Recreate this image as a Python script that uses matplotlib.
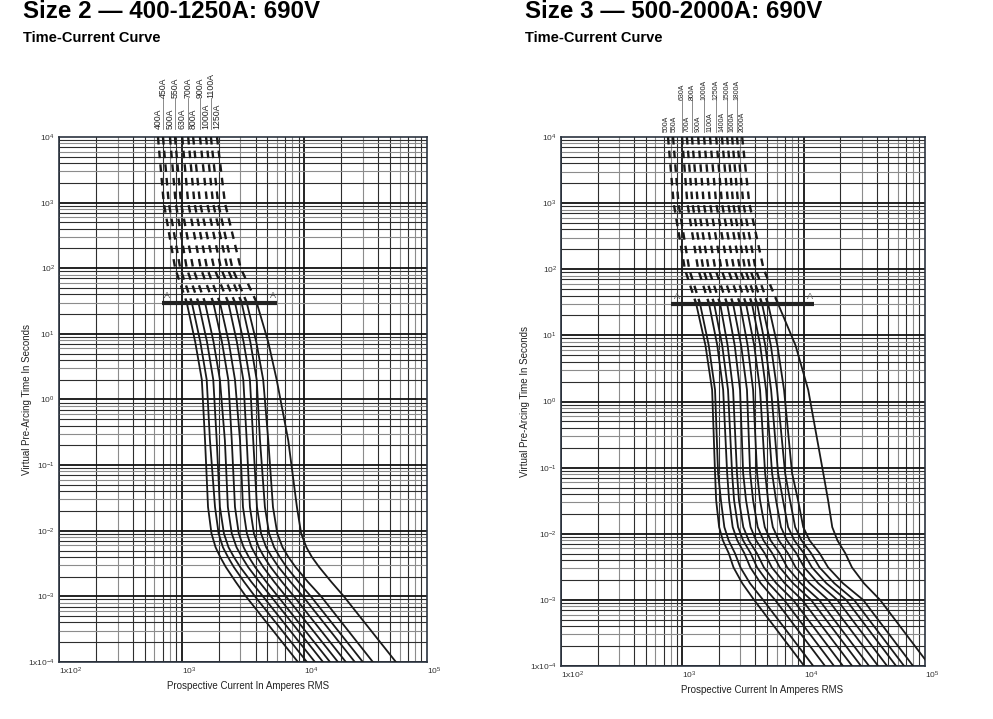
import numpy as np
import matplotlib
matplotlib.use("Agg")
from matplotlib import pyplot as plt
from matplotlib import transforms

plt.rcParams["font.family"] = ["Liberation Sans", "DejaVu Sans"]
plt.rcParams["mathtext.default"] = "regular"

left_times = [1e4, 1e3, 100, 30, 7.5, 2.0, 0.24, 0.023, 0.0091, 0.0056, 0.0040, 0.0028, 0.00166, 0.001, 1e-4]
right_times = [1e4, 1e3, 100, 30, 7.1, 1.5, 0.083, 0.032, 0.0126, 0.0079, 0.0051, 0.0031, 0.00178, 0.001, 1e-4]

left_ratings = [400, 450, 500, 550, 630, 700, 800, 900, 1000, 1100, 1250]
left_upper = [450, 550, 700, 900, 1100]
right_ratings = [500, 550, 630, 700, 800, 900, 1000, 1100, 1250, 1400, 1500, 1600, 1800, 2000]
right_upper = [630, 800, 1000, 1250, 1500, 1800]

# prospective current (A RMS), one row per fuse rating
left_currents = [
    [641, 714, 885, 1100, 1290, 1460, 1550, 1640, 1750, 1890, 2060, 2290, 2760, 3340, 8870],
    [704, 784, 973, 1210, 1420, 1600, 1700, 1870, 2000, 2170, 2380, 2660, 3230, 3960, 10500],
    [803, 893, 1100, 1370, 1610, 1810, 1930, 2050, 2210, 2410, 2660, 3000, 3700, 4600, 12200],
    [882, 987, 1240, 1550, 1820, 2050, 2250, 2380, 2560, 2800, 3090, 3480, 4300, 5340, 14200],
    [1010, 1130, 1430, 1810, 2130, 2400, 2560, 2720, 2920, 3200, 3520, 3970, 4900, 6090, 16200],
    [1130, 1270, 1610, 2050, 2420, 2720, 2990, 3160, 3400, 3710, 4090, 4620, 5690, 7080, 18800],
    [1240, 1410, 1840, 2400, 2820, 3180, 3390, 3600, 3880, 4250, 4690, 5310, 6580, 8230, 21800],
    [1410, 1610, 2090, 2720, 3200, 3600, 3830, 4110, 4440, 4880, 5420, 6160, 7720, 9740, 25800],
    [1580, 1800, 2360, 3080, 3630, 4090, 4350, 4770, 5160, 5670, 6290, 7160, 8970, 11300, 30000],
    [1730, 1980, 2590, 3390, 4060, 4620, 5080, 5550, 6020, 6640, 7400, 8470, 10700, 13700, 36200],
    [1940, 2250, 3030, 4090, 5080, 5950, 7390, 8700, 9420, 10400, 11500, 13200, 16600, 21000, 55800],
]

right_currents = [
    [762, 848, 1050, 1300, 1550, 1760, 1860, 1900, 2010, 2160, 2410, 2640, 3120, 3900, 10100],
    [838, 929, 1140, 1400, 1650, 1860, 1970, 2080, 2220, 2410, 2710, 3010, 3610, 4630, 12000],
    [994, 1100, 1350, 1660, 1940, 2170, 2340, 2430, 2600, 2840, 3240, 3630, 4430, 5810, 15000],
    [1090, 1210, 1490, 1830, 2130, 2380, 2570, 2670, 2880, 3170, 3650, 4130, 5140, 6890, 17800],
    [1200, 1340, 1650, 2050, 2360, 2620, 2820, 2930, 3180, 3530, 4110, 4700, 5950, 8180, 21100],
    [1350, 1500, 1870, 2340, 2700, 2990, 3170, 3350, 3650, 4060, 4760, 5460, 6980, 9700, 25100],
    [1510, 1690, 2100, 2620, 3050, 3410, 3620, 3830, 4180, 4670, 5500, 6350, 8180, 11500, 29700],
    [1690, 1900, 2380, 2990, 3450, 3830, 4130, 4370, 4780, 5350, 6330, 7320, 9470, 13400, 34600],
    [1900, 2120, 2670, 3350, 3910, 4370, 4810, 5090, 5570, 6250, 7410, 8590, 11200, 15900, 41100],
    [2120, 2380, 2990, 3750, 4380, 4900, 5490, 5920, 6500, 7290, 8680, 10100, 13200, 18900, 48700],
    [2340, 2620, 3290, 4130, 4820, 5390, 6150, 6760, 7440, 8390, 10000, 11700, 15400, 22400, 57800],
    [2570, 2880, 3620, 4540, 5360, 6040, 7030, 7720, 8510, 9610, 11500, 13500, 17900, 26000, 67300],
    [2820, 3180, 4020, 5090, 6070, 6890, 8020, 8990, 9920, 11200, 13500, 15900, 21100, 30900, 79800],
    [3110, 3560, 4680, 6150, 8560, 10900, 14500, 15900, 17200, 19000, 22000, 25000, 31400, 42600, 110000],
]

# "A - A" reference line
a_time = 30
left_a_line = [690, 6000]
right_a_line = [807, 12200]

y_ticks = [1e-4, 1e-3, 1e-2, 1e-1, 1, 10, 100, 1e3, 1e4]
y_labels = ["1x10$^{-4}$", "10$^{-3}$", "10$^{-2}$", "10$^{-1}$", "10$^{0}$",
            "10$^{1}$", "10$^{2}$", "10$^{3}$", "10$^{4}$"]
x_ticks = [1e2, 1e3, 1e4, 1e5]
x_labels = ["1x10$^{2}$", "10$^{3}$", "10$^{4}$", "10$^{5}$"]


def draw_panel(ax, ratings, upper, times, currents, a_line, xlab_x, ylab_x,
               lab_fs, lab_y, nudge):
    ax.set_xscale("log")
    ax.set_yscale("log")
    ax.set_xlim(1e2, 1e5)
    ax.set_ylim(1e-4, 1e4)

    # log paper grid
    dark = (2, 4, 5, 7, 9)
    for dec in [1e2, 1e3, 1e4]:
        for m in range(2, 10):
            c = "#2e2e2e" if m in dark else "#8c8c8c"
            ax.axvline(dec * m, color=c, lw=0.8, zorder=1)
        ax.axvline(dec, color="#111111", lw=1.3, zorder=1)
    for e in range(-4, 4):
        dec = 10.0 ** e
        for m in range(2, 10):
            c = "#2e2e2e" if m in dark else "#8c8c8c"
            ax.axhline(dec * m, color=c, lw=0.8, zorder=1)
        ax.axhline(dec, color="#111111", lw=1.3, zorder=1)

    t = np.array(times)
    for cur in currents:
        cur = np.array(cur)
        top = t >= a_time
        low = t <= a_time
        ax.plot(cur[top], t[top], color="#1a1a1a", lw=1.7, ls=(0, (3.2, 2.6)), zorder=3)
        ax.plot(cur[low], t[low], color="#1a1a1a", lw=1.3, zorder=3)

    ax.plot(a_line, [a_time, a_time], color="#222222", lw=3, solid_capstyle="butt", zorder=4)
    ax.annotate("A", (a_line[0], a_time), xytext=(4, 2), textcoords="offset points",
                fontsize=6.5, color="#555555", ha="center", va="bottom")
    ax.annotate("A", (a_line[1], a_time), xytext=(-3, 2), textcoords="offset points",
                fontsize=6.5, color="#555555", ha="center", va="bottom")

    # rating labels above the curve tops, in two staggered rows
    trans = transforms.blended_transform_factory(ax.transData, ax.transAxes)
    low_y, up_y = lab_y
    for r, cur in zip(ratings, currents):
        dx = nudge.get(r, 0)
        if r in upper:
            ax.annotate(f"{r}A", (cur[0], up_y), xycoords=trans, xytext=(dx, 0),
                        textcoords="offset points", rotation=90, ha="center",
                        va="bottom", fontsize=lab_fs, color="#222222")
            ax.plot([cur[0], cur[0]], [low_y, up_y], transform=trans, color="#777777",
                    lw=0.6, clip_on=False)
        else:
            ax.annotate(f"{r}A", (cur[0], low_y), xycoords=trans, xytext=(dx, 0),
                        textcoords="offset points", rotation=90, ha="center",
                        va="bottom", fontsize=lab_fs, color="#222222")

    ax.set_yticks(y_ticks, y_labels)
    ax.set_xticks(x_ticks, x_labels)
    ax.minorticks_off()
    ax.tick_params(length=0, labelsize=6, pad=3, colors="#333333")
    for lbl in ax.get_xticklabels():
        lbl.set_horizontalalignment("left")
    for s in ax.spines.values():
        s.set_color("#2b3440")
        s.set_linewidth(1.2)

    ax.set_xlabel("Prospective Current In Amperes RMS", fontsize=7, color="#222222")
    ax.set_ylabel("Virtual Pre-Arcing Time In Seconds", fontsize=7, color="#222222")
    ax.xaxis.set_label_coords(xlab_x, -0.036)
    ax.yaxis.set_label_coords(ylab_x, 0.5)


fig = plt.figure(figsize=(9.93, 7.19), dpi=100)
ax1 = fig.add_axes([59 / 993, 1 - 662 / 719, 368 / 993, 525 / 719])
ax2 = fig.add_axes([561 / 993, 1 - 666 / 719, 364 / 993, 529 / 719])

draw_panel(ax1, left_ratings, left_upper, left_times, left_currents, left_a_line,
           0.5125, -0.073, 6.3, (1.016, 1.074), {})
draw_panel(ax2, right_ratings, right_upper, right_times, right_currents, right_a_line,
           0.551, -0.085, 5.0, (1.010, 1.070), {500: -1.0, 550: 0.8})

fig.text(0.0229, 0.9745, "Size 2 \u2014 400-1250A: 690V", fontsize=17.4, fontweight="bold", va="baseline")
fig.text(0.0229, 0.942, "Time-Current Curve", fontsize=10.5, fontweight="bold", va="baseline")
fig.text(0.5287, 0.9745, "Size 3 \u2014 500-2000A: 690V", fontsize=17.4, fontweight="bold", va="baseline")
fig.text(0.5287, 0.942, "Time-Current Curve", fontsize=10.5, fontweight="bold", va="baseline")

fig.savefig("out.png", dpi=100)
